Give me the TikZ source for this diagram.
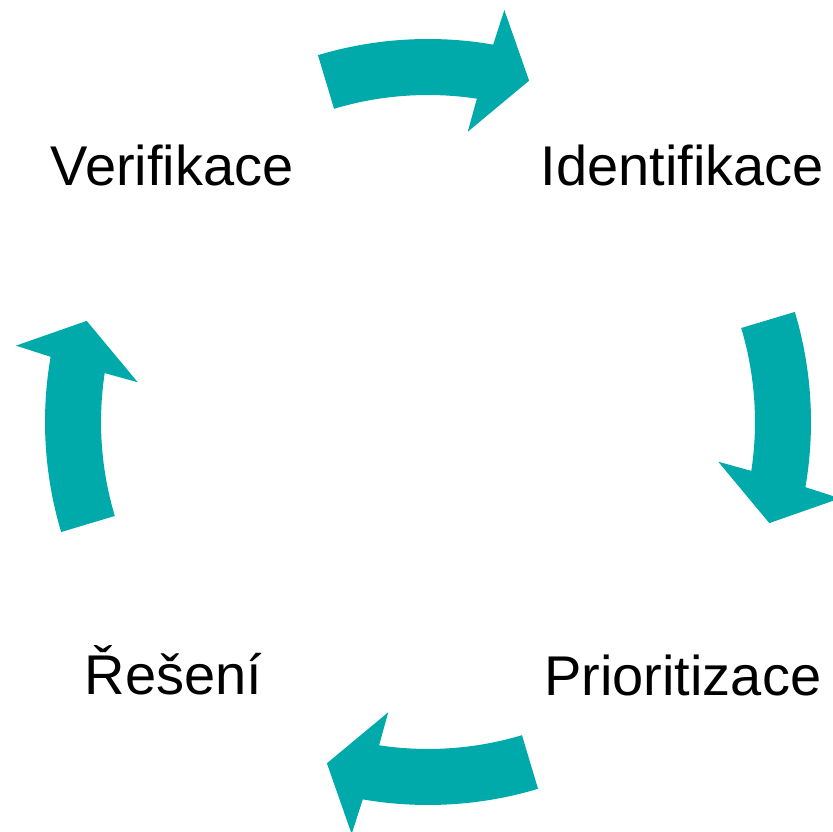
\documentclass[tikz,border=0pt]{standalone}
\usepackage{fontspec}
\setmainfont{Liberation Sans}
\definecolor{cycleteal}{RGB}{0,170,170}
\tikzset{
  cyclearrow/.style={fill=cycleteal, draw=none},
  steplabel/.style={inner sep=0pt, anchor=base, font=\fontsize{56pt}{60pt}\selectfont}
}
\begin{document}
\begin{tikzpicture}[x=1pt,y=1pt]
  \useasboundingbox[fill=white] (0,0) rectangle (833,832);
  % one curved block arrow around the common centre, repeated every 90 degrees
  \foreach \k in {0,1,2,3}{
    \begin{scope}[shift={(428pt,410pt)}, rotate=-90*\k]
      \fill[cyclearrow]
        (106.7:383pt) arc[start angle=106.7, end angle=80.2, radius=383pt]
        -- (79.5:419pt) -- (73.5:356pt) -- (82.2:293pt) -- (81.4:327pt)
        arc[start angle=81.4, end angle=106.7, radius=327pt] -- cycle;
    \end{scope}
  }
  % stage labels
  \node[steplabel] (verif)  at (172.2pt,646pt) {Verifikace};
  \node[steplabel] (ident)  at (682.2pt,646pt) {Identifikace};
  \node[steplabel] (prior)  at (682.7pt,136pt) {Prioritizace};
  \node[steplabel] (reseni) at (173.7pt,137pt) {Řešení};
\end{tikzpicture}
\end{document}
